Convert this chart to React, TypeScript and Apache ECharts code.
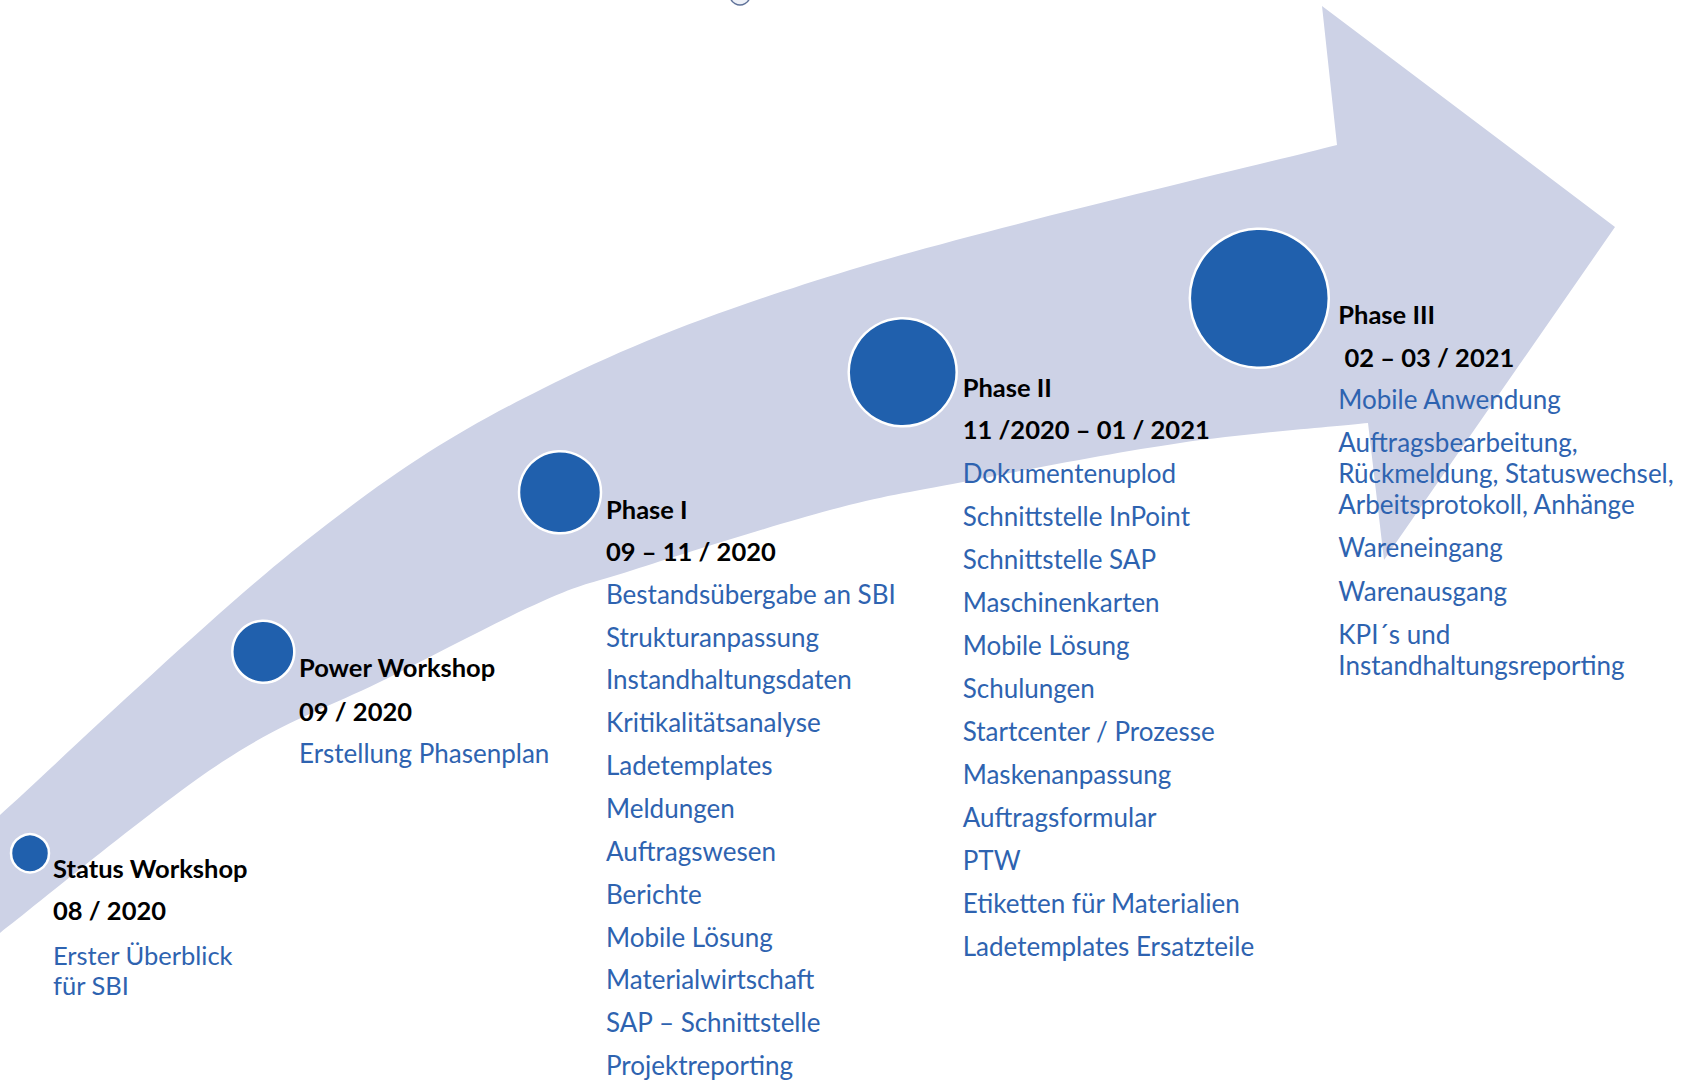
import React, { useEffect, useRef } from "react";
import * as echarts from "echarts";

const W = 1694;
const H = 1080;

// ---- content ----
const milestoneTitles = ["Status Workshop", "Power Workshop", "Phase I", "Phase II", "Phase III"];
const milestoneDates = ["08 / 2020", "09 / 2020", "09 – 11 / 2020", "11 /2020 – 01 / 2021", " 02 – 03 / 2021"];
const statusItems = ["Erster Überblick\nfür SBI"];
const powerItems = ["Erstellung Phasenplan"];
const phase1Items = [
  "Bestandsübergabe an SBI",
  "Strukturanpassung",
  "Instandhaltungsdaten",
  "Kritikalitätsanalyse",
  "Ladetemplates",
  "Meldungen",
  "Auftragswesen",
  "Berichte",
  "Mobile Lösung",
  "Materialwirtschaft",
  "SAP – Schnittstelle",
  "Projektreporting",
];
const phase2Items = [
  "Dokumentenuplod",
  "Schnittstelle InPoint",
  "Schnittstelle SAP",
  "Maschinenkarten",
  "Mobile Lösung",
  "Schulungen",
  "Startcenter / Prozesse",
  "Maskenanpassung",
  "Auftragsformular",
  "PTW",
  "Etiketten für Materialien",
  "Ladetemplates Ersatzteile",
];
const phase3Items = [
  "Mobile Anwendung",
  "Auftragsbearbeitung,\nRückmeldung, Statuswechsel,\nArbeitsprotokoll, Anhänge",
  "Wareneingang",
  "Warenausgang",
  "KPI´s und\nInstandhaltungsreporting",
];
const milestoneItems = [statusItems, powerItems, phase1Items, phase2Items, phase3Items];

// milestone markers (position in page units, diameter)
const milestoneX = [30, 263.3, 560, 902.7, 1259.3];
const milestoneY = [853.3, 651.7, 492.3, 372.3, 298.3];
const milestoneSize = [38, 62, 82, 108, 139];

// ---- layout / style ----
const FONT = "Lato, 'Noto Sans', sans-serif";
const BLUE = "#2E63B0";
const DOT = "#2060AD";
const BAND = "#CDD2E6";

const textLayout = [
  { x: 53, y: 868.3, dateGap: 42, itemGap: 45, step: 43, wrap: 29.7, itemSize: 25.5 },
  { x: 299, y: 667.3, dateGap: 43.4, itemGap: 42.6, step: 43, wrap: 31, itemSize: 26 },
  { x: 606, y: 508.7, dateGap: 42.6, itemGap: 42.4, step: 42.85, wrap: 31, itemSize: 26 },
  { x: 962.7, y: 387.2, dateGap: 42.1, itemGap: 43.4, step: 43, wrap: 31, itemSize: 26 },
  { x: 1338.3, y: 314, dateGap: 43, itemGap: 42, step: 43.2, wrap: 31, itemSize: 26 },
];
const TITLE_SIZE = 25.5;

const arrowUpper: number[][] = [
  [0, 815], [303, 543], [542, 389], [850, 270], [1337, 145],
];
const arrowHead: number[][] = [[1322, 6], [1615, 227], [1384, 560], [1368, 423]];
const arrowLower: number[][] = [
  [1368, 423], [1180, 443], [963, 482], [830, 510], [633, 570], [543, 601], [386, 679], [222, 762], [0, 933],
];

function smooth(pts: number[][]): string {
  let d = "";
  for (let i = 0; i < pts.length - 1; i++) {
    const p0 = pts[i - 1] || pts[i];
    const p1 = pts[i];
    const p2 = pts[i + 1];
    const p3 = pts[i + 2] || p2;
    const c1x = p1[0] + (p2[0] - p0[0]) / 6;
    const c1y = p1[1] + (p2[1] - p0[1]) / 6;
    const c2x = p2[0] - (p3[0] - p1[0]) / 6;
    const c2y = p2[1] - (p3[1] - p1[1]) / 6;
    d += ` C ${c1x.toFixed(1)} ${c1y.toFixed(1)} ${c2x.toFixed(1)} ${c2y.toFixed(1)} ${p2[0]} ${p2[1]}`;
  }
  return d;
}

const arrowD =
  `M ${arrowUpper[0][0]} ${arrowUpper[0][1]}` +
  smooth(arrowUpper) +
  arrowHead.map((p) => ` L ${p[0]} ${p[1]}`).join("") +
  smooth(arrowLower) +
  " Z";

echarts.graphic.registerShape("bigArrow", echarts.graphic.extendPath(arrowD, {}));

function buildTexts() {
  const els: any[] = [];
  milestoneTitles.forEach((title, i) => {
    const L = textLayout[i];
    els.push({
      type: "text",
      x: L.x,
      y: L.y,
      z: 100,
      style: { text: title, fill: "#000", font: `bold ${TITLE_SIZE}px ${FONT}`, verticalAlign: "middle", align: "left" },
    });
    let y = L.y + L.dateGap;
    els.push({
      type: "text",
      x: L.x,
      y,
      z: 100,
      style: { text: milestoneDates[i], fill: "#000", font: `bold ${TITLE_SIZE}px ${FONT}`, verticalAlign: "middle", align: "left" },
    });
    y += L.itemGap;
    milestoneItems[i].forEach((item, k) => {
      if (k > 0) y += L.step;
      const lines = item.split("\n");
      lines.forEach((line, j) => {
        if (j > 0) y += L.wrap;
        els.push({
          type: "text",
          x: L.x,
          y,
          z: 100,
          style: { text: line, fill: BLUE, font: `${L.itemSize}px ${FONT}`, verticalAlign: "middle", align: "left" },
        });
      });
    });
  });
  return els;
}

export default function App() {
  const ref = useRef<HTMLDivElement>(null);
  useEffect(() => {
    if (!ref.current) return;
    const chart = echarts.init(ref.current, undefined, { renderer: "svg", width: W, height: H });
    chart.setOption({
      animation: false,
      backgroundColor: "#ffffff",
      grid: { left: 0, right: 0, top: 0, bottom: 0 },
      xAxis: { type: "value", min: 0, max: W, show: false },
      yAxis: { type: "value", min: 0, max: H, inverse: true, show: false },
      series: [
        {
          type: "scatter",
          z: 5,
          data: milestoneX.map((x, i) => ({ value: [x, milestoneY[i]], symbolSize: milestoneSize[i] })),
          itemStyle: { color: DOT, borderColor: "#ffffff", borderWidth: 2.5, opacity: 1 },
          emphasis: { disabled: true },
          silent: true,
        },
      ],
      graphic: [
        { type: "bigArrow", x: 0, y: 0, z: -10, silent: true, style: { fill: BAND } },
        { type: "circle", z: -5, shape: { cx: 740, cy: -5, r: 10 }, style: { fill: "#EEF1F8", stroke: "#5F7299", lineWidth: 1.5 } },
        ...buildTexts(),
      ],
    });
    return () => chart.dispose();
  }, []);
  return <div ref={ref} style={{ position: "fixed", left: 0, top: 0, width: W, height: H, background: "#fff" }} />;
}
